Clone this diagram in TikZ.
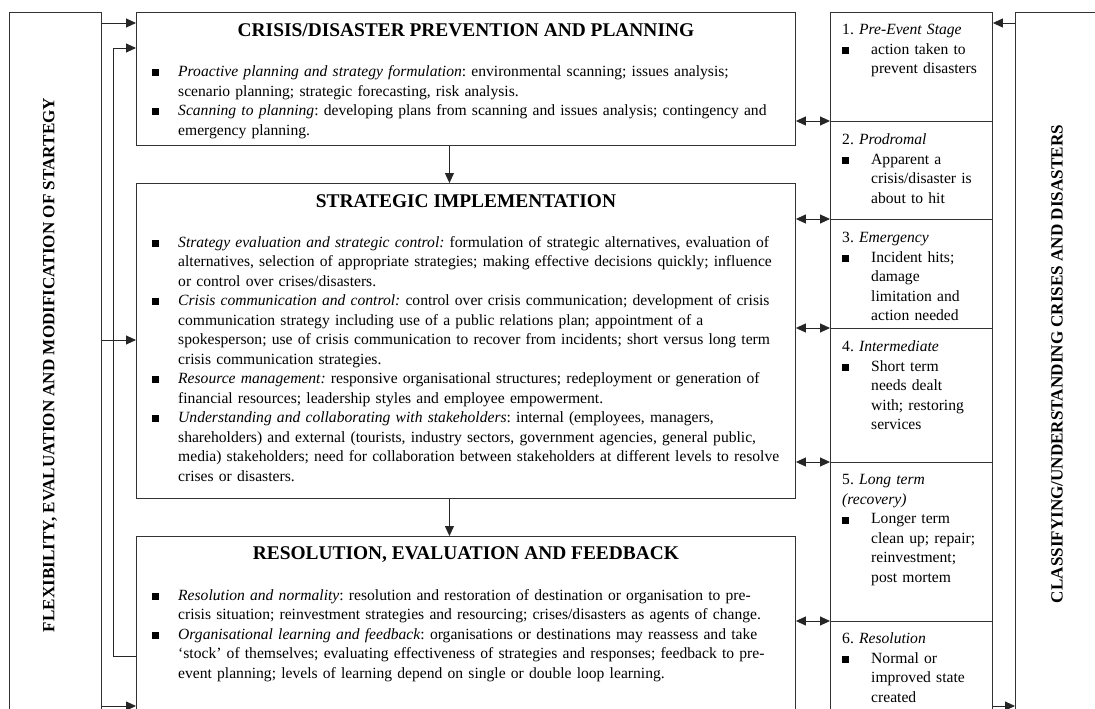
\documentclass[tikz,border=0pt]{standalone}
\usepackage{fontspec}
\setmainfont{Liberation Serif}
\usetikzlibrary{arrows.meta}
\newcommand\bodyfont{\fontsize{15.6}{19.5}\selectfont}
\newcommand\bsq{\raisebox{0.3pt}{\rule{7pt}{7pt}}}
\newcommand\mitem[1]{\par\hangindent=26pt\hangafter=1\noindent\strut\makebox[26pt][l]{\bsq}#1\par}
\newcommand\sitem[1]{\par\hangindent=29pt\hangafter=1\noindent\strut\makebox[29pt][l]{\bsq}#1\par}
\begin{document}
\begin{tikzpicture}[x=1pt,y=-1pt,
  box/.style={draw=black!80, line width=0.9pt, rectangle, inner sep=0pt, anchor=north west},
  ttl/.style={font=\fontsize{19.4}{22}\selectfont\bfseries, inner sep=0pt},
  body/.style={anchor=north west, inner sep=0pt, text width=#1, font=\bodyfont,
    execute at begin node={\raggedright\frenchspacing\parindent=0pt\parskip=0pt}},
  side/.style={font=\fontsize{17.1}{20}\selectfont\bfseries, rotate=90, inner sep=0pt},
  arr/.style={draw=black!85, line width=0.9pt, -{Triangle[length=10pt,width=9pt]}},
  darr/.style={draw=black!85, line width=0.9pt, {Triangle[length=10pt,width=9pt]}-{Triangle[length=10pt,width=9pt]}},
]
\useasboundingbox (0,0) rectangle (1095,709);
\clip (0,0) rectangle (1095,709);
\fill[white] (0,0) rectangle (1095,709);

% frames
\node[box, minimum width=92pt, minimum height=740pt] (lbox) at (9,12) {};
\node[box, minimum width=659pt, minimum height=133pt] (box1) at (136,12) {};
\node[box, minimum width=659pt, minimum height=315pt] (box2) at (136,183) {};
\node[box, minimum width=659pt, minimum height=220pt] (box3) at (136,536) {};
\node[box, minimum width=162pt, minimum height=109pt] (s1) at (830,12) {};
\node[box, minimum width=162pt, minimum height=98pt] (s2) at (830,121) {};
\node[box, minimum width=162pt, minimum height=109pt] (s3) at (830,219) {};
\node[box, minimum width=162pt, minimum height=134pt] (s4) at (830,328) {};
\node[box, minimum width=162pt, minimum height=159pt] (s5) at (830,462) {};
\node[box, minimum width=162pt, minimum height=130pt] (s6) at (830,621) {};
\node[box, minimum width=100pt, minimum height=740pt] (rbox) at (1015,12) {};

% side labels
\node[side] (ltxt) at (50,365) {FLEXIBILITY, EVALUATION AND MODIFICATION OF STARTEGY};
\node[side] (rtxt) at (1057,364) {CLASSIFYING/UNDERSTANDING CRISES AND DISASTERS};

% titles
\node[ttl] (t1) at ([yshift=-18pt]box1.north) {CRISIS/DISASTER PREVENTION AND PLANNING};
\node[ttl] (t2) at ([yshift=-18pt]box2.north) {STRATEGIC IMPLEMENTATION};
\node[ttl] (t3) at ([yshift=-19pt]box3.north) {RESOLUTION, EVALUATION AND FEEDBACK};

% main texts
\node[body=635pt] (b1) at ([xshift=16pt,yshift=-45pt]box1.north west) {%
\mitem{\textit{Proactive planning and strategy formulation}: environmental scanning; issues analysis;\newline scenario planning; strategic forecasting, risk analysis.}%
\mitem{\textit{Scanning to planning}: developing plans from scanning and issues analysis; contingency and\newline emergency planning.}};

\node[body=635pt] (b2) at ([xshift=16pt,yshift=-44.5pt]box2.north west) {%
\mitem{\textit{Strategy evaluation and strategic control:} formulation of strategic alternatives, evaluation of\newline alternatives, selection of appropriate strategies; making effective decisions quickly; influence\newline or control over crises/disasters.}%
\mitem{\textit{Crisis communication and control:} control over crisis communication; development of crisis\newline communication strategy including use of a public relations plan; appointment of a\newline spokesperson; use of crisis communication to recover from incidents; short versus long term\newline crisis communication strategies.}%
\mitem{\textit{Resource management:} responsive organisational structures; redeployment or generation of\newline financial resources; leadership styles and employee empowerment.}%
\mitem{\textit{Understanding and collaborating with stakeholders}: internal (employees, managers,\newline shareholders) and external (tourists, industry sectors, government agencies, general public,\newline media) stakeholders; need for collaboration between stakeholders at different levels to resolve\newline crises or disasters.}};

\node[body=635pt] (b3) at ([xshift=16pt,yshift=-44.5pt]box3.north west) {%
\mitem{\textit{Resolution and normality}: resolution and restoration of destination or organisation to pre-\newline crisis situation; reinvestment strategies and resourcing; crises/disasters as agents of change.}%
\mitem{\textit{Organisational learning and feedback}: organisations or destinations may reassess and take\newline ‘stock’ of themselves; evaluating effectiveness of strategies and responses; feedback to pre-\newline event planning; levels of learning depend on single or double loop learning.}};

% stage texts
\node[body=148pt] (st1) at ([xshift=12pt,yshift=-9pt]s1.north west) {\strut 1. \textit{Pre-Event Stage}\sitem{action taken to\newline prevent disasters}};
\node[body=148pt] (st2) at ([xshift=12pt,yshift=-10pt]s2.north west) {\strut 2. \textit{Prodromal}\sitem{Apparent a\newline crisis/disaster is\newline about to hit}};
\node[body=148pt] (st3) at ([xshift=12pt,yshift=-10pt]s3.north west) {\strut 3. \textit{Emergency}\sitem{Incident hits;\newline damage\newline limitation and\newline action needed}};
\node[body=148pt] (st4) at ([xshift=12pt,yshift=-10pt]s4.north west) {\strut 4. \textit{Intermediate}\sitem{Short term\newline needs dealt\newline with; restoring\newline services}};
\node[body=148pt] (st5) at ([xshift=12pt,yshift=-9pt]s5.north west) {\strut 5. \textit{Long term\newline (recovery)}\sitem{Longer term\newline clean up; repair;\newline reinvestment;\newline post mortem}};
\node[body=148pt] (st6) at ([xshift=12pt,yshift=-9pt]s6.north west) {\strut 6. \textit{Resolution}\sitem{Normal or\newline improved state\newline created}};

% connectors
\coordinate (yA) at ([yshift=-11pt]box1.north west);
\draw[arr] (lbox.east |- yA) -- (yA);
\coordinate (yB) at ([yshift=-157pt]box2.north west);
\draw[arr] (lbox.east |- yB) -- (yB);
\coordinate (yC) at ([yshift=-170pt]box3.north west);
\draw[arr] (lbox.east |- yC) -- (yC);
\coordinate (fbOut) at ([yshift=-120pt]box3.north west);
\coordinate (fbIn) at ([yshift=-36pt]box1.north west);
\draw[arr] (fbOut) -- ++(-23,0) |- (fbIn);

\draw[arr] ([xshift=-16.5pt]box1.south) -- ([xshift=-16.5pt]box2.north);
\draw[arr] ([xshift=-16.5pt]box2.south) -- ([xshift=-16.5pt]box3.north);

\draw[darr] (box1.east |- s2.north west) -- (s2.north west);
\draw[darr] (box2.east |- s3.north west) -- (s3.north west);
\draw[darr] (box2.east |- s4.north west) -- (s4.north west);
\draw[darr] (box2.east |- s5.north west) -- (s5.north west);
\draw[darr] (box3.east |- s6.north west) -- (s6.north west);

\coordinate (rA) at ([yshift=-11pt]rbox.north west);
\draw[arr] (rA) -- (s1.east |- rA);
\coordinate (rB) at ([yshift=-85pt]s6.north east);
\draw[arr] (rB) -- (rbox.west |- rB);
\end{tikzpicture}
\end{document}
